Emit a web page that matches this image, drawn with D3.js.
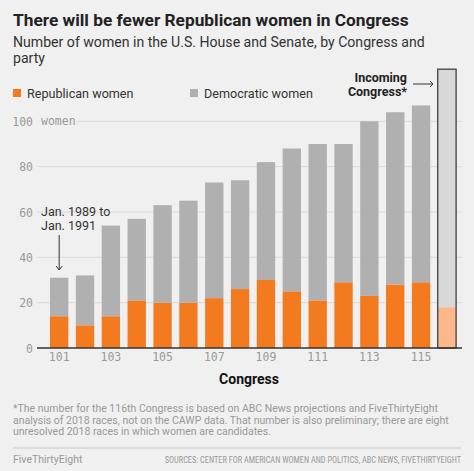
<!DOCTYPE html>
<html>
<head>
<meta charset="utf-8">
<script src="https://cdn.jsdelivr.net/npm/d3@7/dist/d3.min.js"></script>
<style>
  html, body { margin: 0; padding: 0; background: #f0f0f0; }
  svg { display: block; }
</style>
</head>
<body>
<svg id="chart" width="474" height="471"></svg>
<script>
const congresses = ["101","102","103","104","105","106","107","108","109","110","111","112","113","114","115","116"];
const republicanWomen = [14, 10, 14, 21, 20, 20, 22, 26, 30, 25, 21, 29, 23, 28, 29, 18];
const democraticWomen = [17, 22, 40, 36, 43, 45, 51, 48, 52, 63, 69, 61, 77, 76, 78, 105];
const yTicks = [0, 20, 40, 60, 80, 100];
const xTickLabels = ["101","103","105","107","109","111","113","115"];

const svg = d3.select("#chart");
const W = 474, H = 471;
svg.append("rect").attr("width", W).attr("height", H).attr("fill", "#f0f0f0");

const sans = "Roboto, 'Liberation Sans', Arial, sans-serif";
const mono = "'DejaVu Sans Mono', 'Liberation Mono', monospace";

// Title & subtitle
svg.append("text").attr("x", 13).attr("y", 26)
  .attr("font-family", sans).attr("font-weight", "bold").attr("font-size", 17.3)
  .attr("fill", "#222").text("There will be fewer Republican women in Congress");
svg.append("text").attr("x", 13).attr("y", 47)
  .attr("font-family", sans).attr("font-size", 14.1)
  .attr("fill", "#333").text("Number of women in the U.S. House and Senate, by Congress and");
svg.append("text").attr("x", 13).attr("y", 63)
  .attr("font-family", sans).attr("font-size", 14.1)
  .attr("fill", "#333").text("party");

const orange = "#f47a20", gray = "#b0b0b0", lightOrange = "#fcb88a", lightGray = "#d8d8d8";

// Legend
svg.append("rect").attr("x", 13).attr("y", 89).attr("width", 8).attr("height", 8).attr("fill", orange);
svg.append("text").attr("x", 27).attr("y", 98).attr("font-family", sans).attr("font-size", 12.6)
  .attr("fill", "#333").text("Republican women");
svg.append("rect").attr("x", 190).attr("y", 89).attr("width", 8).attr("height", 8).attr("fill", gray);
svg.append("text").attr("x", 204).attr("y", 98).attr("font-family", sans).attr("font-size", 12.6)
  .attr("fill", "#333").text("Democratic women");

// Scales
const y = d3.scaleLinear().domain([0, 100]).range([348, 121.3]);
const x = d3.scaleBand().domain(congresses).range([46.25, 459.85]).paddingInner(0.29).paddingOuter(0.145);

// Gridlines
const grid = svg.append("g");
yTicks.forEach(t => {
  if (t === 0) return;
  grid.append("line").attr("x1", t === 100 ? 77 : 37).attr("x2", 462)
    .attr("y1", y(t)).attr("y2", y(t)).attr("stroke", "#dadada").attr("stroke-width", 1);
});

// Y tick labels
const yAxis = d3.axisLeft(y).tickValues(yTicks).tickSize(0).tickPadding(0)
  .tickFormat(d => d);
const yg = svg.append("g").attr("transform", "translate(33,0)").call(yAxis);
yg.select(".domain").remove();
yg.selectAll("text").attr("font-family", mono).attr("font-size", 11.5).attr("fill", "#999").attr("dy", "0.35em");
svg.append("text").attr("x", 41).attr("y", y(100)).attr("dy", "0.35em")
  .attr("font-family", mono).attr("font-size", 11.5).attr("fill", "#999").text("women");

// Bars
const n = congresses.length;
congresses.forEach((c, i) => {
  const last = i === n - 1;
  const r = republicanWomen[i], d = democraticWomen[i];
  svg.append("rect").attr("x", x(c)).attr("width", x.bandwidth())
    .attr("y", y(r)).attr("height", y(0) - y(r)).attr("fill", last ? lightOrange : orange);
  svg.append("rect").attr("x", x(c)).attr("width", x.bandwidth())
    .attr("y", y(r + d)).attr("height", y(r) - y(r + d)).attr("fill", last ? lightGray : gray);
  if (last) {
    svg.append("rect").attr("x", x(c)).attr("width", x.bandwidth())
      .attr("y", y(r + d)).attr("height", y(0) - y(r + d))
      .attr("fill", "none").attr("stroke", "#333").attr("stroke-width", 1.2);
  }
});

// X axis
const xAxis = d3.axisBottom(x).tickValues(xTickLabels).tickSize(0).tickPadding(5);
const xg = svg.append("g").attr("transform", `translate(0,${y(0)})`).call(xAxis);
xg.select(".domain").remove();
xg.selectAll("text").attr("font-family", mono).attr("font-size", 11.5).attr("fill", "#999");
svg.append("line").attr("x1", 37).attr("x2", 462).attr("y1", y(0)).attr("y2", y(0))
  .attr("stroke", "#333").attr("stroke-width", 1.3);

svg.append("text").attr("x", 249).attr("y", 384).attr("text-anchor", "middle")
  .attr("font-family", sans).attr("font-weight", "bold").attr("font-size", 14)
  .attr("fill", "#111").text("Congress");

// Annotation: Jan. 1989 to Jan. 1991
svg.append("text").attr("x", 41).attr("y", 216).attr("font-family", sans).attr("font-size", 12.5)
  .attr("fill", "#333").text("Jan. 1989 to");
svg.append("text").attr("x", 41).attr("y", 230).attr("font-family", sans).attr("font-size", 12.5)
  .attr("fill", "#333").text("Jan. 1991");
const ax = x("101") + x.bandwidth() / 2;
svg.append("line").attr("x1", ax).attr("x2", ax).attr("y1", 235).attr("y2", 270)
  .attr("stroke", "#333").attr("stroke-width", 1);
svg.append("path").attr("d", `M${ax-3},${266} L${ax},${270} L${ax+3},${266}`)
  .attr("fill", "none").attr("stroke", "#333").attr("stroke-width", 1);

// Annotation: Incoming Congress*
svg.append("text").attr("x", 407).attr("y", 82).attr("text-anchor", "end")
  .attr("font-family", sans).attr("font-weight", "bold").attr("font-size", 12.5)
  .attr("fill", "#222").text("Incoming");
svg.append("text").attr("x", 407).attr("y", 96).attr("text-anchor", "end")
  .attr("font-family", sans).attr("font-weight", "bold").attr("font-size", 12.5)
  .attr("fill", "#222").text("Congress*");
svg.append("line").attr("x1", 413).attr("x2", 433).attr("y1", 84).attr("y2", 84)
  .attr("stroke", "#333").attr("stroke-width", 1);
svg.append("path").attr("d", "M430,81 L433,84 L430,87").attr("fill", "none")
  .attr("stroke", "#333").attr("stroke-width", 1);

// Footnote
const foot = ["*The number for the 116th Congress is based on ABC News projections and FiveThirtyEight",
  "analysis of 2018 races, not on the CAWP data. That number is also preliminary; there are eight",
  "unresolved 2018 races in which women are candidates."];
foot.forEach((t, i) => {
  svg.append("text").attr("x", 13).attr("y", 412 + i * 11.5).attr("font-family", sans)
    .attr("font-size", 10.5).attr("fill", "#999").text(t);
});

svg.append("line").attr("x1", 13).attr("x2", 461).attr("y1", 448).attr("y2", 448)
  .attr("stroke", "#c8c8c8").attr("stroke-width", 1);
svg.append("text").attr("x", 13).attr("y", 463).attr("font-family", sans).attr("font-size", 10.5)
  .attr("fill", "#999").text("FiveThirtyEight");
svg.append("text").attr("x", 461).attr("y", 463).attr("text-anchor", "end")
  .attr("font-family", "'Roboto Condensed', 'DejaVu Sans Condensed', 'Liberation Sans Narrow', sans-serif")
  .attr("font-size", 8.3).attr("fill", "#999")
  .text("SOURCES: CENTER FOR AMERICAN WOMEN AND POLITICS, ABC NEWS, FIVETHIRTYEIGHT");
</script>
</body>
</html>
